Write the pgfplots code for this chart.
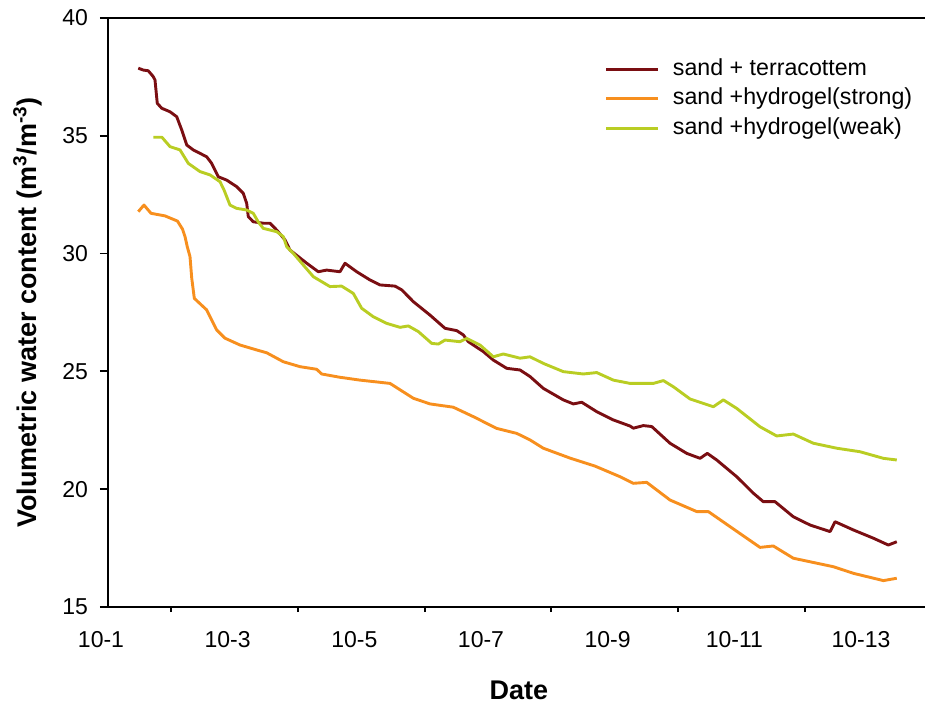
\documentclass[border=0pt]{standalone}
\usepackage{fontspec}
\setmainfont{Liberation Sans}
\usepackage{pgfplots}
\pgfplotsset{compat=1.18}

\definecolor{terra}{RGB}{122,14,18}
\definecolor{strong}{RGB}{247,143,30}
\definecolor{weak}{RGB}{185,205,35}

\begin{document}
\begin{tikzpicture}
\begin{axis}[
  scale only axis,
  width=408.5pt, height=294.5pt,
  xmin=1, xmax=13.9, ymin=15, ymax=40,
  axis x line*=bottom, axis y line*=left,
  axis line style={line width=1.2pt},
  xtick={1,3,...,13},
  xticklabels={10-1,10-3,10-5,10-7,10-9,10-11,10-13},
  minor xtick={2,4,...,12},
  ytick={15,20,...,40},
  tick align=outside,
  major tick length=4pt, minor tick length=2.5pt,
  tick style={black, line width=0.9pt},
  major x tick style={draw=none},
  /pgf/number format/assume math mode=true,
  tick label style={font=\fontsize{11.5}{13}\selectfont},
  xticklabel style={yshift=-4.5pt, xshift=-3.5pt},
  yticklabel style={xshift=-2.5pt},
  xlabel={Date},
  ylabel={Volumetric water content (m\textsuperscript{3}/m\textsuperscript{-3})},
  label style={font=\fontsize{13.5}{15}\selectfont\bfseries},
  xlabel style={at={(axis description cs:0.503,-0.141)}, anchor=center},
  ylabel style={at={(axis description cs:-0.098,0.5)}, anchor=center},
  legend style={at={(axis description cs:0.6083,0.9346)}, anchor=north west,
    draw=none, fill=none, inner sep=0pt, outer sep=0pt, row sep=2pt,
    font=\fontsize{11.6}{13}\selectfont,
    nodes={inner sep=1pt, text height=8.3pt, text depth=2.5pt},
    /tikz/every odd column/.append style={column sep=5.5pt}},
  legend cell align=left,
  legend image code/.code={\draw[line width=1.5pt] (0pt,0pt) -- (26pt,0pt);},
  every axis plot/.append style={line width=1.45pt, line join=round, no marks},
]

% sand + terracottem
\addplot[terra] coordinates {
(1.478,37.87) (1.557,37.79) (1.636,37.76) (1.715,37.51) (1.742,37.37)
(1.778,36.38) (1.848,36.17) (1.979,36.02) (2.085,35.81) (2.164,35.25)
(2.243,34.61) (2.347,34.40) (2.558,34.11) (2.637,33.83) (2.742,33.26)
(2.874,33.12) (3.032,32.84) (3.136,32.56) (3.190,32.13) (3.215,31.57)
(3.294,31.35) (3.452,31.29) (3.558,31.29) (3.664,31.00) (3.795,30.58)
(3.874,30.15) (4.138,29.59) (4.321,29.23) (4.453,29.30) (4.663,29.23)
(4.742,29.59) (4.927,29.23) (5.137,28.88) (5.295,28.67) (5.532,28.62)
(5.638,28.46) (5.821,27.96) (6.084,27.39) (6.321,26.83) (6.506,26.73)
(6.610,26.55) (6.689,26.26) (6.926,25.84) (7.084,25.48) (7.296,25.13)
(7.506,25.06) (7.664,24.78) (7.873,24.28) (8.189,23.79) (8.347,23.62)
(8.480,23.69) (8.717,23.29) (8.979,22.94) (9.243,22.68) (9.295,22.59)
(9.453,22.70) (9.585,22.66) (9.874,21.95) (10.138,21.52) (10.348,21.31)
(10.463,21.52) (10.611,21.24) (10.927,20.53) (11.190,19.83) (11.347,19.47)
(11.532,19.47) (11.821,18.83) (12.085,18.48) (12.401,18.20) (12.480,18.62)
(12.769,18.27) (13.085,17.92) (13.321,17.63) (13.454,17.77)
};
\addlegendentry{sand + terracottem}

% sand + hydrogel (strong)
\addplot[strong] coordinates {
(1.478,31.78) (1.568,32.06) (1.679,31.71) (1.900,31.60) (2.097,31.38)
(2.176,31.04) (2.216,30.72) (2.252,30.29) (2.295,29.87) (2.322,28.96)
(2.363,28.10) (2.558,27.61) (2.716,26.76) (2.847,26.41) (3.084,26.12)
(3.348,25.91) (3.506,25.79) (3.768,25.41) (4.032,25.20) (4.295,25.09)
(4.374,24.89) (4.663,24.75) (4.979,24.63) (5.453,24.49) (5.821,23.86)
(6.084,23.62) (6.452,23.48) (6.768,23.08) (7.138,22.58) (7.453,22.37)
(7.664,22.09) (7.873,21.74) (8.295,21.32) (8.690,20.98) (9.085,20.53)
(9.295,20.25) (9.506,20.29) (9.874,19.54) (10.296,19.05) (10.479,19.05)
(10.822,18.41) (11.295,17.53) (11.505,17.59) (11.821,17.07) (12.453,16.71)
(12.769,16.43) (13.243,16.12) (13.454,16.22)
};
\addlegendentry{sand +hydrogel(strong)}

% sand + hydrogel (weak)
\addplot[weak] coordinates {
(1.715,34.94) (1.851,34.94) (1.979,34.54) (2.137,34.40) (2.268,33.83)
(2.453,33.48) (2.611,33.34) (2.769,33.05) (2.832,32.70) (2.926,32.06)
(3.032,31.92) (3.190,31.85) (3.294,31.71) (3.373,31.34) (3.452,31.07)
(3.664,30.93) (3.768,30.72) (3.822,30.29) (3.926,30.01) (4.242,29.02)
(4.505,28.60) (4.689,28.62) (4.873,28.31) (5.005,27.68) (5.189,27.32)
(5.399,27.04) (5.611,26.87) (5.742,26.93) (5.900,26.69) (6.111,26.19)
(6.216,26.16) (6.321,26.33) (6.558,26.26) (6.664,26.40) (6.874,26.12)
(7.084,25.62) (7.242,25.74) (7.506,25.56) (7.664,25.62) (7.873,25.34)
(8.189,24.99) (8.505,24.89) (8.717,24.95) (8.979,24.63) (9.243,24.49)
(9.611,24.49) (9.769,24.61) (9.926,24.35) (10.190,23.83) (10.558,23.50)
(10.716,23.79) (10.927,23.43) (11.295,22.65) (11.558,22.26) (11.821,22.34)
(12.137,21.95) (12.506,21.74) (12.874,21.59) (13.243,21.31) (13.454,21.24)
};
\addlegendentry{sand +hydrogel(weak)}

% top border of the frame
\draw[line width=1.2pt] (rel axis cs:0,1) -- (rel axis cs:1,1);
\end{axis}
\pgfresetboundingbox
\path[use as bounding box] (current axis.south west) ++(-54pt,-49.5pt) rectangle ++(462.5pt,353pt);
\end{tikzpicture}
\end{document}
